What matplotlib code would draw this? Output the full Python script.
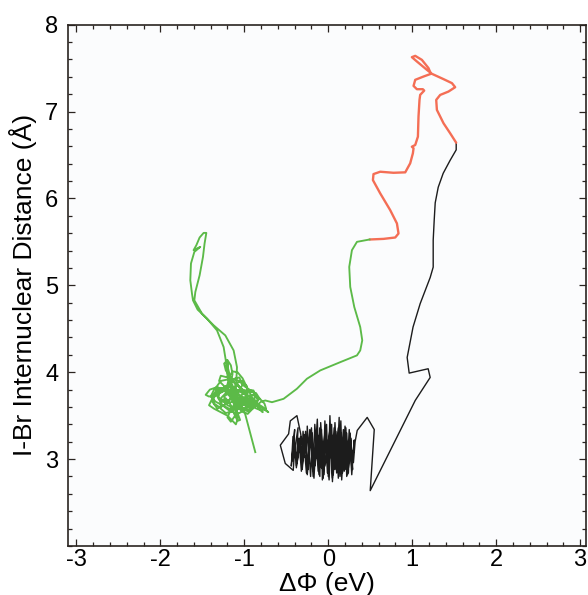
import matplotlib
matplotlib.use("Agg")
import matplotlib.pyplot as plt
from matplotlib.ticker import MultipleLocator

plt.rcParams['font.family'] = ['Liberation Sans', 'DejaVu Sans']
plt.rcParams['axes.unicode_minus'] = False

# black: bound I-Br vibration, then the stretch out to ~6.6 A
black_x = [-0.28, -0.33, -0.373, -0.452, -0.472, -0.571, -0.512, -0.417, -0.40, -0.38, -0.35, -0.32,
           -0.30, -0.26, -0.25, -0.21, -0.19, -0.17, -0.13, -0.11, -0.08, -0.07, -0.02, 0.00, 0.02,
           0.05, 0.07, 0.10, 0.13, 0.14, 0.18, 0.19, 0.22, 0.24, 0.26, 0.28, 0.31,
           0.28, 0.25, 0.22, 0.20, 0.16, 0.15, 0.11, 0.08, 0.05, 0.03, -0.01, -0.04, -0.06, -0.10,
           -0.12, -0.16, -0.18, -0.22, -0.24, -0.28, -0.31, -0.34, -0.37,
           -0.42, -0.44, -0.40, -0.42, -0.36, -0.38,
           -0.33, -0.31, -0.27, -0.25, -0.20, -0.17, -0.14, -0.10, -0.09, -0.05, -0.03, 0.01, 0.04,
           0.06, 0.09, 0.12, 0.15, 0.17, 0.21, 0.23, 0.26, 0.29,
           0.27, 0.24, 0.21, 0.17, 0.12, 0.08, 0.04, 0.00, -0.04, -0.08, -0.12, -0.16, -0.20, -0.16,
           -0.10, -0.04, 0.02, 0.08, 0.14, 0.20, 0.26, 0.30, 0.32, 0.345, 0.464, 0.548, 0.50,
           1.036, 1.214, 1.19, 0.964, 0.94, 1.01, 1.095, 1.214, 1.25, 1.25, 1.262, 1.274, 1.31,
           1.369, 1.452, 1.524, 1.524]
black_y = [3.02, 3.30, 3.50, 3.44, 3.29, 3.16, 2.95, 2.87, 3.12, 2.92, 3.24, 2.86,
           3.32, 2.84, 3.38, 2.80, 3.30, 2.86, 3.46, 2.82, 3.34, 2.76, 3.40, 2.80, 3.50,
           2.78, 3.36, 2.84, 3.48, 2.80, 3.34, 2.86, 3.30, 2.84, 3.28, 2.90, 3.22,
           2.82, 3.34, 2.80, 3.38, 2.76, 3.30, 2.86, 3.42, 2.74, 3.34, 2.84, 3.44, 2.78, 3.36,
           2.86, 3.40, 2.80, 3.34, 2.88, 3.28, 2.92, 3.18, 2.96,
           3.26, 2.92, 3.34, 2.98, 3.36, 2.90,
           3.26, 2.88, 3.32, 2.82, 3.36, 2.78, 3.30, 2.80, 3.42, 2.82, 3.32, 2.76, 3.40,
           2.82, 3.32, 2.78, 3.44, 2.84, 3.36, 2.82, 3.30, 2.88,
           3.24, 2.90, 3.30, 2.90, 3.36, 2.88, 3.28, 2.86, 3.30, 2.90, 3.26, 2.92, 3.24, 2.96,
           3.30, 2.92, 3.34, 2.90, 3.32, 2.88, 3.20, 2.96, 3.20, 3.33, 3.48, 3.34, 2.637,
           3.675, 3.94, 4.04, 3.99, 4.17, 4.52, 4.79, 5.09, 5.21, 5.52, 5.75, 5.95, 6.13,
           6.29, 6.44, 6.56, 6.64]

# red: dissociated region
red_x = [1.524, 1.452, 1.373, 1.294, 1.286, 1.333, 1.432, 1.512, 1.473, 1.373, 1.235, 1.175,
         1.056, 0.996, 1.036, 1.115, 1.194, 1.223, 1.135, 1.036, 1.016, 1.056, 1.127, 1.143,
         1.095, 1.087, 1.075, 1.068, 1.036, 0.996, 1.016, 1.008, 0.976, 0.917, 0.777, 0.619,
         0.539, 0.532, 0.619, 0.738, 0.818, 0.837, 0.798, 0.658, 0.492]
red_y = [6.642, 6.751, 6.866, 7.020, 7.135, 7.192, 7.231, 7.281, 7.328, 7.374, 7.435, 7.481,
         7.577, 7.627, 7.642, 7.596, 7.501, 7.435, 7.404, 7.366, 7.296, 7.258, 7.258, 7.242,
         7.193, 7.135, 6.942, 6.712, 6.616, 6.596, 6.578, 6.520, 6.405, 6.301, 6.296, 6.308,
         6.281, 6.212, 6.059, 5.866, 5.713, 5.597, 5.551, 5.535, 5.528]

# green: return and recombination
green_x = [0.492, 0.342, 0.282, 0.25, 0.262, 0.31, 0.381, 0.405, 0.381, 0.342, 0.143, -0.095,
           -0.254, -0.373, -0.532, -0.67, -0.75,
           -0.80, -0.88, -0.96, -1.04, -1.10, -1.13, -1.10, -1.03, -0.97, -0.96, -1.01, -1.09,
           -1.18, -1.26, -1.31, -1.29, -1.22, -1.14, -1.09, -1.10, -1.16, -1.20, -1.16, -1.11,
           -1.07, -1.00, -0.92, -0.86, -0.83, -0.78, -0.84, -0.90, -0.96, -1.02, -1.08, -1.14,
           -1.18, -1.20, -1.25, -1.33, -1.42, -1.46, -1.41, -1.32, -1.24, -1.17, -1.12, -1.08,
           -1.05, -1.08, -1.12, -1.16, -1.22, -1.28, -1.28, -1.22, -1.14, -1.06, -0.99, -0.92,
           -0.87, -0.89, -0.96, -1.03, -1.06, -1.02, -0.96, -0.90,
           -0.94, -1.02, -1.10, -1.18, -1.24, -1.30, -1.36, -1.38, -1.34, -1.26, -1.18, -1.12,
           -1.06, -1.02, -1.06, -1.14, -1.20, -1.16, -1.10, -1.02, -0.96, -0.98, -1.06, -1.16,
           -1.24, -1.22, -1.14, -1.08,
           -1.00, -0.92, -0.86, -0.82, -0.86, -0.94, -1.02, -1.10, -1.16, -1.22, -1.24, -1.20,
           -1.16, -1.14, -1.16, -1.22, -1.30, -1.38, -1.42, -1.36, -1.28, -1.20, -1.14, -1.10,
           -1.08, -1.10, -1.06, -0.98, -0.90, -0.82, -0.76, -0.74, -0.80, -0.90, -1.00, -1.08,
           -1.16, -1.24, -1.30, -1.28, -1.20, -1.12, -1.04, -0.98, -0.96, -1.00, -1.08, -1.18,
           -1.26, -1.34, -1.40, -1.36, -1.28, -1.20, -1.12, -1.04, -0.96, -0.90, -0.94, -1.02,
           -1.10, -1.18, -1.14, -1.06, -1.00, -0.94, -0.88, -0.84, -0.90, -1.00, -1.10, -1.20,
           -1.28, -1.22, -1.14, -1.06, -1.00, -1.04, -1.12, -1.10,
           -1.087, -1.127, -1.226, -1.365, -1.504, -1.595, -1.583, -1.532, -1.492, -1.473,
           -1.452, -1.484, -1.532, -1.571, -1.604, -1.524, -1.595, -1.635, -1.643, -1.623,
           -1.611, -1.556, -1.444, -1.325, -1.246, -1.214,
           -1.20, -1.16, -1.12, -1.18, -1.26, -1.32, -1.34, -1.28, -1.18, -1.08, -1.00, -0.94,
           -0.90, -0.96, -1.04, -1.12, -1.16, -1.206, -1.18, -1.12, -1.04, -0.94, -0.84, -0.714,
           -0.78, -0.88, -0.98, -1.08, -1.16, -1.24, -1.32, -1.38, -1.34, -1.24, -1.14, -1.06,
           -1.02, -0.99, -0.93, -0.869]
green_y = [5.528, 5.501, 5.405, 5.212, 4.982, 4.751, 4.52, 4.367, 4.251, 4.194, 4.116, 4.021,
           3.925, 3.81, 3.694, 3.655, 3.675,
           3.66, 3.60, 3.57, 3.60, 3.68, 3.78, 3.87, 3.90, 3.84, 3.75, 3.66, 3.60,
           3.58, 3.62, 3.70, 3.79, 3.84, 3.82, 3.75, 3.66, 3.57, 3.48, 3.43, 3.50,
           3.60, 3.68, 3.71, 3.67, 3.60, 3.54, 3.60, 3.70, 3.81, 3.93, 4.00, 4.01,
           3.95, 3.86, 3.78, 3.74, 3.72, 3.74, 3.80, 3.83, 3.79, 3.72, 3.63, 3.53,
           3.45, 3.44, 3.52, 3.62, 3.70, 3.66, 3.58, 3.53, 3.55, 3.61, 3.66, 3.66,
           3.71, 3.79, 3.80, 3.74, 3.66, 3.58, 3.55, 3.58,
           3.64, 3.70, 3.72, 3.68, 3.62, 3.60, 3.64, 3.72, 3.78, 3.82, 3.80, 3.74,
           3.78, 3.86, 3.94, 3.92, 3.82, 3.72, 3.64, 3.62, 3.68, 3.76, 3.80, 3.78,
           3.72, 3.64, 3.66, 3.70,
           3.62, 3.60, 3.64, 3.70, 3.76, 3.78, 3.80, 3.86, 3.94, 4.02, 4.10, 4.14,
           4.08, 3.98, 3.88, 3.80, 3.76, 3.70, 3.62, 3.58, 3.54, 3.50, 3.44, 3.40,
           3.46, 3.56, 3.66, 3.72, 3.74, 3.70, 3.64, 3.58, 3.56, 3.60, 3.66, 3.70,
           3.76, 3.84, 3.90, 3.96, 3.94, 3.88, 3.82, 3.74, 3.64, 3.56, 3.52, 3.56,
           3.62, 3.66, 3.72, 3.80, 3.82, 3.78, 3.70, 3.64, 3.62, 3.66, 3.72, 3.76,
           3.80, 3.86, 3.92, 3.90, 3.84, 3.80, 3.76, 3.68, 3.62, 3.58, 3.58, 3.62,
           3.70, 3.76, 3.78, 3.74, 3.68, 3.62, 3.60, 3.80,
           4.059, 4.251, 4.424, 4.540, 4.675, 4.828, 4.924, 5.116, 5.328, 5.482,
           5.604, 5.604, 5.551, 5.462, 5.405, 5.443, 5.385, 5.252, 5.059, 4.905,
           4.828, 4.721, 4.617, 4.482, 4.290, 4.098,
           3.96, 3.84, 3.76, 3.68, 3.66, 3.72, 3.82, 3.90, 3.92, 3.86, 3.76, 3.66,
           3.58, 3.52, 3.56, 3.66, 3.80, 4.14, 3.94, 3.80, 3.72, 3.66, 3.62, 3.54,
           3.60, 3.66, 3.70, 3.74, 3.70, 3.62, 3.58, 3.66, 3.76, 3.80, 3.74, 3.64,
           3.56, 3.52, 3.30, 3.08]

fig = plt.figure(figsize=(5.88, 5.95), dpi=100)
ax = fig.add_axes([0.1156, 0.0824, 0.881, 0.876])
ax.set_facecolor('#fbfcfd')

ax.plot(black_x, black_y, color='#1c1c1c', lw=1.0)
ax.plot(red_x, red_y, color='#f46e55', lw=1.7, solid_capstyle='round')
ax.plot(green_x, green_y, color='#5cba48', lw=1.35)

ax.set_xlim(-3.1, 3.07)
ax.set_ylim(2, 8)
ax.set_xticks([-3, -2, -1, 0, 1, 2, 3])
ax.set_yticks([3, 4, 5, 6, 7, 8])
ax.xaxis.set_minor_locator(MultipleLocator(0.2))
ax.yaxis.set_minor_locator(MultipleLocator(0.2))
ax.tick_params(which='both', direction='in', top=True, right=True, color='#2a2420', width=0.9)
ax.tick_params(which='major', length=5, labelsize=17)
ax.tick_params(which='minor', length=3)
ax.tick_params(axis='x', which='major', pad=2)
ax.tick_params(axis='y', which='major', pad=7)
for s in ax.spines.values():
    s.set_color('#2a2420')
    s.set_linewidth(1.2)

ax.set_xlabel('ΔΦ (eV)', fontsize=19, labelpad=1)
ax.set_ylabel('I-Br Internuclear Distance (Å)', fontsize=19, labelpad=6)

fig.savefig('out.png', dpi=100)
